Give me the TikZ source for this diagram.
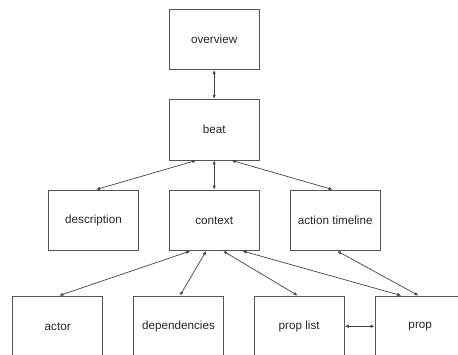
\documentclass[tikz,border=0pt]{standalone}
\usepackage{fontspec}
\setmainfont{Liberation Sans}
\usetikzlibrary{arrows.meta}
\definecolor{boxline}{HTML}{555555}
\definecolor{linkline}{HTML}{444444}
\begin{document}
\begin{tikzpicture}[x=1pt,y=-1pt,
  box/.style={draw=boxline,line width=0.8pt,minimum width=90.3pt,minimum height=60.7pt,
    inner sep=0pt,font=\fontsize{11.7}{14}\selectfont,text=black!85},
  link/.style={draw=linkline,line width=0.7pt,{Latex[length=4pt,width=3.4pt]}-{Latex[length=4pt,width=3.4pt]}}]
\clip (0,0) rectangle (458,354);
\fill[white] (0,0) rectangle (458,354);
% top spine
\node[box] (overview) at (214.15,39.3) {overview};
\node[box] (beat) at (214.15,129.7) {beat};
% middle row
\node[box] (desc) at (93.5,220.3) {description};
\node[box] (context) at (214.15,220.3) {context};
\node[box] (timeline) at (335.2,220.3) {action timeline};
% bottom row
\node[box] (actor) at (57.7,326.3) {actor};
\node[box] (deps) at (178.5,326.3) {dependencies};
\node[box] (proplist) at (299.2,326.3) {prop list};
\node[box] (prop) at (420.2,326.3) {prop};
% links
\draw[link] (overview.south) -- (beat.north);
\draw[link] ([xshift=-18pt]beat.south) -- ([xshift=2.5pt]desc.north);
\draw[link] (beat.south) -- (context.north);
\draw[link] ([xshift=17.5pt]beat.south) -- ([xshift=-2.5pt]timeline.north);
\draw[link] ([xshift=-24pt]context.south) -- ([xshift=1.6pt]actor.north);
\draw[link] ([xshift=-8pt]context.south) -- ([xshift=1.5pt]deps.north);
\draw[link] ([xshift=9pt]context.south) -- ([xshift=-1.5pt]proplist.north);
\draw[link] ([xshift=28.5pt]context.south) -- ([xshift=-19pt]prop.north);
\draw[link] ([xshift=2pt]timeline.south) -- ([xshift=-1.7pt]prop.north);
\draw[link] (proplist.east) -- (prop.west);
\end{tikzpicture}
\end{document}
